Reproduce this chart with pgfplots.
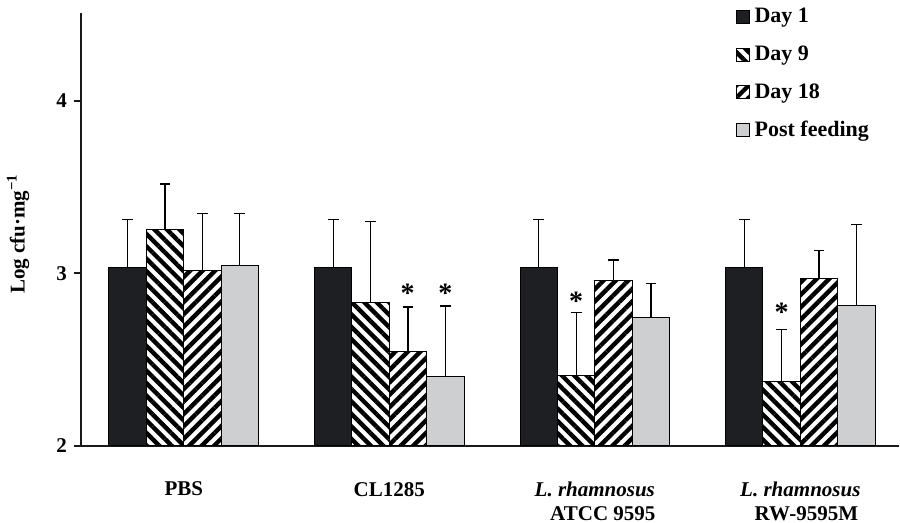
\documentclass[border=0pt]{standalone}
\usepackage{fontspec}
\setmainfont{Liberation Serif}
\usepackage{pgfplots}
\pgfplotsset{compat=1.18}
\usetikzlibrary{patterns.meta}
\definecolor{dayone}{HTML}{1E1F22}
\definecolor{post}{HTML}{CDCFD1}
\pgfplotsset{
  sq legend/.style={legend image code/.code={\draw[##1, line width=0.4pt] (0pt,-3.25pt) rectangle (6.5pt,3.25pt);}},
  ebar/.style={error bars/.cd, y dir=plus, y explicit,
     error bar style={black, line width=0.6pt, solid},
     error mark options={black, rotate=90, mark size=2.7pt, line width=0.6pt, solid}},
}
\begin{document}
\begin{tikzpicture}
\begin{axis}[
  scale only axis, width=409pt, height=216.5pt,
  xmin=-0.5, xmax=3.48, ymin=2, ymax=4.51,
  axis x line*=bottom, axis y line*=left,
  axis line style={line width=1pt, color=black!90},
  ytick={2,3,4}, xtick={0,1,2,3},
  xticklabels={PBS, CL1285, {\textit{L. rhamnosus}\\\hspace*{8pt}ATCC 9595}, {\textit{L. rhamnosus}\\\hspace*{6pt}RW-9595M}},
  x tick style={draw=none},
  y tick style={line width=1pt, black!90},
  tick align=outside, major tick length=3.5pt,
  ticklabel style={font=\bfseries\fontsize{10.5}{12}\selectfont},
  xticklabel style={align=center, anchor=north, yshift=-11pt},
  /pgf/number format/assume math mode=true,
  ylabel={Log cfu·mg\textsuperscript{−1}},
  ylabel style={at={(axis description cs:-0.077,0.49)}, anchor=center, font=\bfseries\fontsize{10.5}{12}\selectfont},
  legend style={at={(rel axis cs:0.80,1.023)}, anchor=north west, draw=none, fill=none,
     font=\bfseries\fontsize{11}{13}\selectfont, row sep=5pt, inner sep=0pt,
     nodes={inner sep=2.5pt}},
  legend cell align=left,
  clip=false,
]
\addplot[ybar, bar width=0.182, bar shift=0pt, fill=dayone, draw=black, line width=0.5pt, sq legend, ebar]
  coordinates {(-0.273,3.034) +- (0,0.280) (0.727,3.034) +- (0,0.280) (1.727,3.034) +- (0,0.280) (2.727,3.034) +- (0,0.280)};
\addlegendentry{Day 1}
\addplot[ybar, bar width=0.182, bar shift=0pt, draw=black, line width=0.5pt,
  pattern={Lines[angle=-45,distance=4.4pt,line width=2.2pt]}, pattern color=black, sq legend, ebar]
  coordinates {(-0.091,3.256) +- (0,0.263) (0.909,2.831) +- (0,0.469) (1.909,2.410) +- (0,0.363) (2.909,2.373) +- (0,0.301)};
\addlegendentry{Day 9}
\addplot[ybar, bar width=0.182, bar shift=0pt, draw=black, line width=0.5pt,
  pattern={Lines[angle=45,distance=4.4pt,line width=2.2pt]}, pattern color=black, sq legend, ebar]
  coordinates {(0.091,3.020) +- (0,0.327) (1.091,2.547) +- (0,0.259) (2.091,2.962) +- (0,0.116) (3.091,2.972) +- (0,0.160)};
\addlegendentry{Day 18}
\addplot[ybar, bar width=0.182, bar shift=0pt, fill=post, draw=black, line width=0.5pt, sq legend, ebar]
  coordinates {(0.273,3.048) +- (0,0.299) (1.273,2.402) +- (0,0.410) (2.273,2.744) +- (0,0.197) (3.273,2.812) +- (0,0.473)};
\addlegendentry{Post feeding}
\addplot[draw=none, mark=none, forget plot, nodes near coords={*},
  every node near coord/.style={anchor=base, inner sep=0pt, yshift=-7pt, font=\bfseries\fontsize{14}{14}\selectfont}]
  coordinates {(1.089,2.915) (1.273,2.915) (1.909,2.865) (2.909,2.805)};
\end{axis}
\pgfresetboundingbox
\path (-40.5pt,-38.5pt) rectangle (409.5pt,223pt);
\end{tikzpicture}
\end{document}
